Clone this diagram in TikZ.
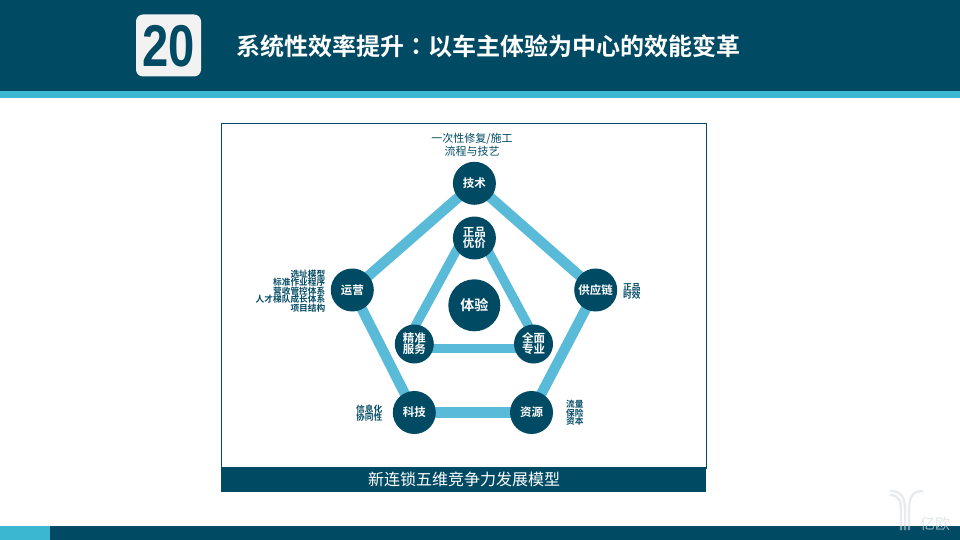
\documentclass[tikz,border=0pt]{standalone}
\usepackage{fontspec}
\usetikzlibrary{backgrounds}
\setmainfont{Liberation Sans}
\newfontfamily\cjk{Noto Sans CJK SC}
\newfontfamily\cjkb{Noto Sans CJK SC Bold}
\newfontfamily\cjktc{Noto Sans CJK TC Bold}
\definecolor{navy}{HTML}{004A63}
\definecolor{band}{HTML}{3CB7D2}
\definecolor{edgeblue}{HTML}{5ABBD9}
\definecolor{tile}{HTML}{F2F2F2}
\definecolor{pale}{HTML}{D5DCE0}
\tikzset{
  hub/.style={circle,fill=navy,text=white,inner sep=0pt,font=\cjkb\fontsize{11.5}{12}\selectfont,align=center},
  big/.style={hub,minimum size=43pt},
  mid/.style={hub,minimum size=39pt},
  core/.style={hub,minimum size=52pt,font=\cjkb\fontsize{14}{15}\selectfont},
  link/.style={edgeblue,line width=10.3pt},
  innerlink/.style={edgeblue,line width=9.3pt},
  note/.style={text=navy,inner sep=0pt,font=\cjkb\fontsize{8.7}{8.6}\selectfont},
  wmstroke/.style={pale,opacity=.55,line width=2.4pt},
}
\begin{document}
\begin{tikzpicture}[x=1pt,y=-1pt]
\useasboundingbox (0,0) rectangle (960,540);
\begin{pgfonlayer}{background}
\fill[white] (0,0) rectangle (960,540);
\end{pgfonlayer}
% header and footer
\fill[navy] (0,0) rectangle (960,91.5);
\fill[band] (0,91.5) rectangle (960,98);
\fill[navy] (50,526) rectangle (960,540);
\fill[band] (0,526) rectangle (50,540);
\node[fill=tile,rounded corners=7pt,minimum width=65pt,minimum height=62pt,inner sep=0pt] (badge) at (168.5,45.5) {};
\node[text=navy,inner sep=0pt,xscale=.8,font=\bfseries\fontsize{59}{59}\selectfont] (num) at (168.5,46) {20};
\node[anchor=west,text=white,inner sep=0pt,font=\cjkb\fontsize{24}{26}\selectfont] (title) at (236,46) {系统性效率提升{\cjktc ：}以车主体验为中心的效能变革};
% frame
\node[draw=navy,line width=.8pt,minimum width=485pt,minimum height=344pt,inner sep=0pt,anchor=north west] (frame) at (221,123.5) {};
\node[fill=navy,minimum width=485pt,minimum height=24.5pt,inner sep=0pt,anchor=north west] (caption) at (221,467.2) {};
\node[text=white,inner sep=0pt,font=\cjk\fontsize{16}{18}\selectfont] (captext) at (464,479) {新连锁五维竞争力发展模型};
% hubs
\node[big] (tech) at (474.4,183.3) {技术};
\node[big] (ops) at (352.3,290) {运营};
\node[big] (sup) at (595.7,290) {供应链};
\node[big] (it) at (414.3,412.5) {科技};
\node[big] (res) at (531.5,412.5) {资源};
\node[big] (goods) at (474.4,238) {正品\\[-1pt]优价};
\node[mid] (svc) at (414.3,344) {精准\\[-1pt]服务};
\node[mid] (full) at (533.5,344) {全面\\[-1pt]专业};
\node[core] (exp) at (474.3,305.3) {体验};
% links behind the hubs
\begin{pgfonlayer}{background}
\draw[link] (tech.center) -- (sup.center);
\draw[link] (sup.center) -- (res.center);
\draw[link] (res.center) -- (it.center);
\draw[link] (it.center) -- (ops.center);
\draw[link] (ops.center) -- (tech.center);
\draw[innerlink] ([xshift=-11.2pt]goods.center) -- ([xshift=-9pt]svc.center);
\draw[innerlink] ([xshift=6.7pt]goods.center) -- ([xshift=4.7pt]full.center);
\draw[innerlink] ([yshift=-4.7pt]svc.center) -- ([yshift=-4.7pt]full.center);
\end{pgfonlayer}
% notes
\node[text=navy,inner sep=0pt,align=center,font=\cjk\fontsize{11}{12.8}\selectfont] (n1) at (472,145) {一次性修复/施工\\流程与技艺};
\node[note,align=right,anchor=east] (n2) at (325.5,291) {选址模型\\标准作业程序\\营收管控体系\\人才梯队成长体系\\项目结构};
\node[note,align=left,anchor=west] (n3) at (623,291.5) {正品\\时效};
\node[note,align=right,anchor=east] (n4) at (382.5,413) {信息化\\协同性};
\node[note,align=left,anchor=west] (n5) at (566,413) {流量\\保险\\资本};
% watermark
\draw[wmstroke] (890,491) .. controls (902,491) and (905,498) .. (905,510) -- (905,530);
\draw[wmstroke] (890,495) .. controls (899,495) and (901,501) .. (901,510) -- (901,530);
\draw[wmstroke] (923,491) .. controls (912,491) and (909,498) .. (909,510) -- (909,530);
\node[text=pale,opacity=.7,inner sep=0pt,font=\cjk\fontsize{15}{15}\selectfont] (wm) at (935,523.5) {亿欧};
\end{tikzpicture}
\end{document}
